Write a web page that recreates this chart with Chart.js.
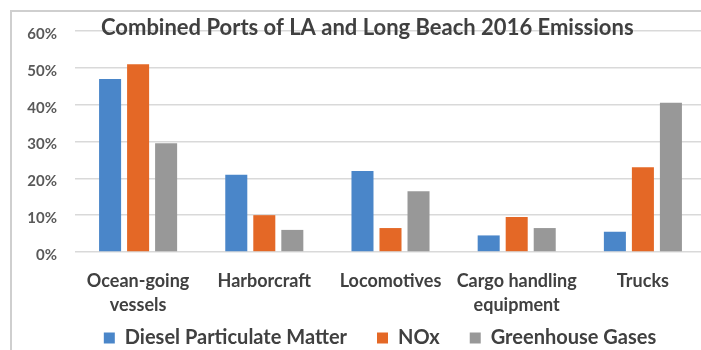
<!DOCTYPE html>
<html lang="en">
<head>
    <meta charset="UTF-8">
    <title>Combined Ports of LA and Long Beach 2016 Emissions</title>
    <script src="https://cdn.jsdelivr.net/npm/chart.js"></script>
    <style>
        html, body { margin: 0; padding: 0; background: #fff; }
        .janela { position: relative; width: 701px; height: 350px; overflow: hidden; }
        .moldura {
            position: absolute; left: 10px; top: 10px; right: -20px; bottom: -20px;
            border-top: 2px solid #cfcfcf; border-left: 2px solid #cfcfcf;
        }
        .area-grafico { position: absolute; left: 0; top: 0; width: 712px; height: 350px; }
    </style>
</head>
<body>
    <div class="janela">
        <div class="moldura"></div>
        <div class="area-grafico">
            <canvas id="grafico_barras"></canvas>
        </div>
    </div>
<script>
    // categorias e valores (% do total de cada poluente)
    var fontes = [['Ocean-going', 'vessels'], 'Harborcraft', 'Locomotives', ['Cargo handling', 'equipment'], 'Trucks'];
    var diesel_pm = [47, 21, 22, 4.5, 5.5];
    var nox = [51, 10, 6.5, 9.5, 23];
    var gases_estufa = [29.5, 6, 16.5, 6.5, 40.5];
    var marcas_y = [0, 10, 20, 30, 40, 50, 60];

    var titulo = 'Combined Ports of LA and Long Beach 2016 Emissions';
    var fonte = 'Lato, "Open Sans", sans-serif';

    // titulo desenhado por cima das linhas de grade, como no Excel
    const tituloPlugin = {
        id: 'tituloSobreposto',
        afterLayout(chart) {
            // deixa os rotulos dos eixos sairem da caixa de cada eixo
            chart.scales.y.left = 0;
            chart.scales.x.bottom = chart.height;
        },
        afterDraw(chart) {
            const ctx = chart.ctx;
            ctx.save();
            ctx.font = 'bold 22px ' + fonte;
            ctx.fillStyle = '#404040';
            ctx.textBaseline = 'alphabetic';
            ctx.textAlign = 'left';
            ctx.fillText(titulo, 101, 35);
            ctx.restore();
        }
    };

    const chart = new Chart('grafico_barras', {
        type: 'bar',
        data: {
            labels: fontes,
            datasets: [{
                label: 'Diesel Particulate Matter',
                data: diesel_pm,
                backgroundColor: '#4a86c9'
            }, {
                label: 'NOx',
                data: nox,
                backgroundColor: '#e46826'
            }, {
                label: 'Greenhouse Gases',
                data: gases_estufa,
                backgroundColor: '#989898'
            }]
        },
        options: {
            responsive: true,
            maintainAspectRatio: false,
            animation: false,
            layout: {
                padding: { left: 54, right: 6, top: 31, bottom: 0 }
            },
            datasets: {
                bar: { categoryPercentage: 0.666, barPercentage: 0.786 }
            },
            scales: {
                x: {
                    grid: { display: false, drawTicks: false },
                    border: { display: false },
                    ticks: {
                        maxRotation: 0,
                        autoSkip: false,
                        padding: 17,
                        color: '#404040',
                        font: { family: fonte, size: 18, weight: 'bold', lineHeight: '24px' }
                    },
                    afterFit(scale) { scale.height = 46; }
                },
                y: {
                    min: 0,
                    max: 60,
                    afterBuildTicks(scale) {
                        scale.ticks = marcas_y.map(v => ({ value: v }));
                    },
                    grid: { color: '#d9d9d9', lineWidth: 1.6, drawTicks: false },
                    border: { display: false },
                    ticks: {
                        padding: 18,
                        labelOffset: 3,
                        color: '#595959',
                        font: { family: fonte, size: 15, weight: 'bold' },
                        callback: v => v + '%'
                    },
                    afterFit(scale) { scale.width = 21; }
                }
            },
            plugins: {
                tooltip: { enabled: false },
                legend: {
                    position: 'bottom',
                    maxHeight: 52,
                    labels: {
                        boxWidth: 11,
                        boxHeight: 11,
                        padding: 30,
                        color: '#404040',
                        font: { family: fonte, size: 20, weight: 'bold' }
                    }
                }
            }
        },
        plugins: [tituloPlugin]
    });
</script>
</body>
</html>
